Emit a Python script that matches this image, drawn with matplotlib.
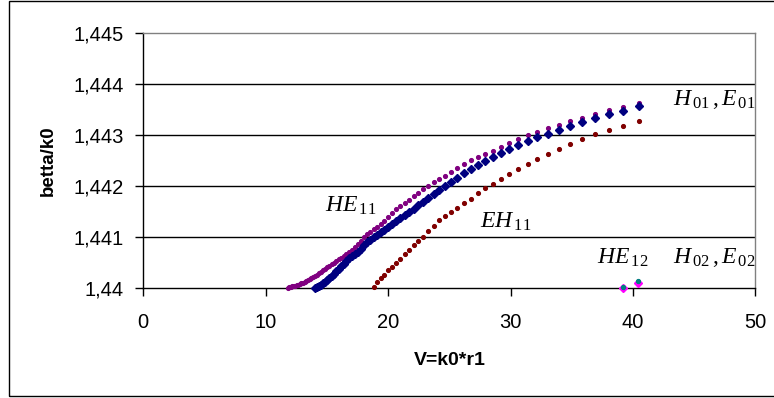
import matplotlib
matplotlib.use("Agg")
import matplotlib.pyplot as plt
from matplotlib.patches import Rectangle

# ---- data ----
V = [11.83, 11.94, 12.05, 12.17, 12.29, 12.40, 12.53, 12.65, 12.78, 12.91,
     13.04, 13.17, 13.31, 13.45, 13.59, 13.74, 13.89, 14.04, 14.19, 14.35,
     14.52, 14.68, 14.86, 15.03, 15.21, 15.39, 15.58, 15.78, 15.97, 16.18,
     16.38, 16.60, 16.82, 17.04, 17.27, 17.51, 17.76, 18.01, 18.27, 18.53,
     18.81, 19.09, 19.38, 19.68, 19.99, 20.31, 20.64, 20.98, 21.34, 21.70,
     22.08, 22.47, 22.88, 23.30, 23.73, 24.19, 24.66, 25.15, 25.66, 26.19,
     26.75, 27.32, 27.93, 28.56, 29.22, 29.91, 30.64, 31.40, 32.20, 33.04,
     33.93, 34.87, 35.86, 36.91, 38.03, 39.21, 40.47]

he11 = [1.44000, 1.44003, 1.440035, 1.44004, 1.440045, 1.44005, 1.44006, 1.44007, 1.44008, 1.440095,
        1.44011, 1.44013, 1.44015, 1.44017, 1.440185, 1.44020, 1.44022, 1.440245, 1.44027, 1.440295,
        1.44032, 1.44035, 1.44038, 1.440415, 1.440445, 1.44047, 1.44050, 1.440535, 1.440565, 1.44060,
        1.44063, 1.44067, 1.44071, 1.44076, 1.44081, 1.44087, 1.44093, 1.44100, 1.441065, 1.44111,
        1.44116, 1.44121, 1.44126, 1.44132, 1.44140, 1.44147, 1.44155, 1.44161, 1.44167, 1.44174,
        1.44181, 1.44187, 1.44194, 1.44201, 1.44208, 1.44214, 1.44221, 1.44228, 1.44236, 1.44244,
        1.44251, 1.44257, 1.44263, 1.44270, 1.44277, 1.44285, 1.44292, 1.44300, 1.44307, 1.44314,
        1.44321, 1.44328, 1.44334, 1.44342, 1.44349, 1.44356, 1.44363]

h01 = [1.44000, 1.44002, 1.440045, 1.44007, 1.44010, 1.44013, 1.44016, 1.44020, 1.440245, 1.44029,
       1.44034, 1.440385, 1.440435, 1.440485, 1.440535, 1.440585, 1.44063, 1.44067, 1.44072, 1.44078,
       1.44084, 1.44090, 1.44095, 1.44100, 1.44105, 1.44110, 1.44115, 1.44120, 1.44126, 1.44131,
       1.44137, 1.44143, 1.44150, 1.44156, 1.44163, 1.44170, 1.44177, 1.44184, 1.44192, 1.44200,
       1.44209, 1.44217, 1.44226, 1.44234, 1.44242, 1.44250, 1.44258, 1.44265, 1.44273, 1.44281,
       1.44289, 1.44296, 1.44303, 1.44311, 1.44319, 1.44326, 1.44334, 1.44341, 1.44348, 1.44357]

eh11 = [1.44003, 1.44012, 1.44020, 1.44027, 1.44036, 1.44042, 1.44050, 1.44058, 1.44068, 1.44076,
        1.44085, 1.44093, 1.44101, 1.44112, 1.44123, 1.44133, 1.44142, 1.44150, 1.44158, 1.44167,
        1.44176, 1.44187, 1.44196, 1.44205, 1.44215, 1.44224, 1.44234, 1.44244, 1.44254, 1.44264,
        1.44274, 1.44282, 1.44292, 1.44303, 1.44311, 1.44319, 1.44328]

he12_V = [39.21, 40.44]
he12_y = [1.44000, 1.44010]
h02_V = [39.21, 40.44]
h02_y = [1.44003, 1.44015]

x_ticks = [0, 10, 20, 30, 40, 50]
y_ticks = [1.440, 1.441, 1.442, 1.443, 1.444, 1.445]
y_tick_labels = ["1,44", "1,441", "1,442", "1,443", "1,444", "1,445"]

# ---- style ----
plt.rcParams['font.family'] = ['Liberation Sans', 'DejaVu Sans']
plt.rcParams['mathtext.fontset'] = 'custom'
plt.rcParams['mathtext.rm'] = 'Liberation Serif'
plt.rcParams['mathtext.it'] = 'Liberation Serif:italic'

W, H = 774, 398
fig = plt.figure(figsize=(W / 100, H / 100), dpi=100)
ax = fig.add_axes([143.3 / W, 1 - 288.3 / H, (755.3 - 143.3) / W, (288.3 - 33.3) / H])

# outer frame
fig.patches.append(Rectangle((9 / W, 1 - 395.7 / H), 1.0, (395.7 - 1.0) / H,
                             transform=fig.transFigure, fill=False, ec='black', lw=1.0,
                             clip_on=False))

ax.set_xlim(0, 50)
ax.set_ylim(1.44, 1.445)

for yv in y_ticks[1:-1]:
    ax.axhline(yv, color='black', lw=1.0, zorder=1)

ax.plot(V, he11, ls='none', marker='o', ms=2.7, color='#800080', mec='#800080', clip_on=False, zorder=3)
ax.plot(V[17:], h01, ls='none', marker='D', ms=4.3, color='#000080', mec='#000080', clip_on=False, zorder=4)
ax.plot(V[40:], eh11, ls='none', marker='o', ms=2.7, color='#800000', mec='#800000', clip_on=False, zorder=5)
ax.plot(he12_V, he12_y, ls='none', marker='D', ms=4.3, color='#FF00FF', mec='#FF00FF', clip_on=False, zorder=6)
ax.plot(h02_V, h02_y, ls='none', marker='o', ms=2.8, color='#008080', mec='#008080', clip_on=False, zorder=7)

ax.set_xticks(x_ticks)
ax.set_xticklabels([str(t) for t in x_ticks])
ax.set_yticks(y_ticks)
ax.set_yticklabels(y_tick_labels)
ax.tick_params(axis='both', direction='out', length=6, width=1, color='black',
               labelsize=14.5)
ax.tick_params(axis='y', pad=8)
ax.tick_params(axis='x', pad=12)

for s in ['left', 'bottom']:
    ax.spines[s].set_color('black')
    ax.spines[s].set_linewidth(1.0)
for s in ['top', 'right']:
    ax.spines[s].set_color('#808080')
    ax.spines[s].set_linewidth(1.0)

ax.set_xlabel('V=k0*r1', fontsize=14, fontweight='bold', labelpad=14)
ax.set_ylabel('betta/k0', fontsize=13.5, fontweight='bold', labelpad=12)

fs = 17
ax.text(43.28, 1.44359, r'$H_{\,01}\,, E_{\,01}$', fontsize=fs, ha='left', va='baseline')
ax.text(14.85, 1.44151, r'$HE_{\,11}$', fontsize=fs, ha='left', va='baseline')
ax.text(27.5, 1.44118, r'$EH_{\,11}$', fontsize=fs, ha='left', va='baseline')
ax.text(37.07, 1.44049, r'$HE_{\,12}$', fontsize=fs, ha='left', va='baseline')
ax.text(43.28, 1.44049, r'$H_{\,02}\,, E_{\,02}$', fontsize=fs, ha='left', va='baseline')

fig.savefig('out.png', dpi=100)
